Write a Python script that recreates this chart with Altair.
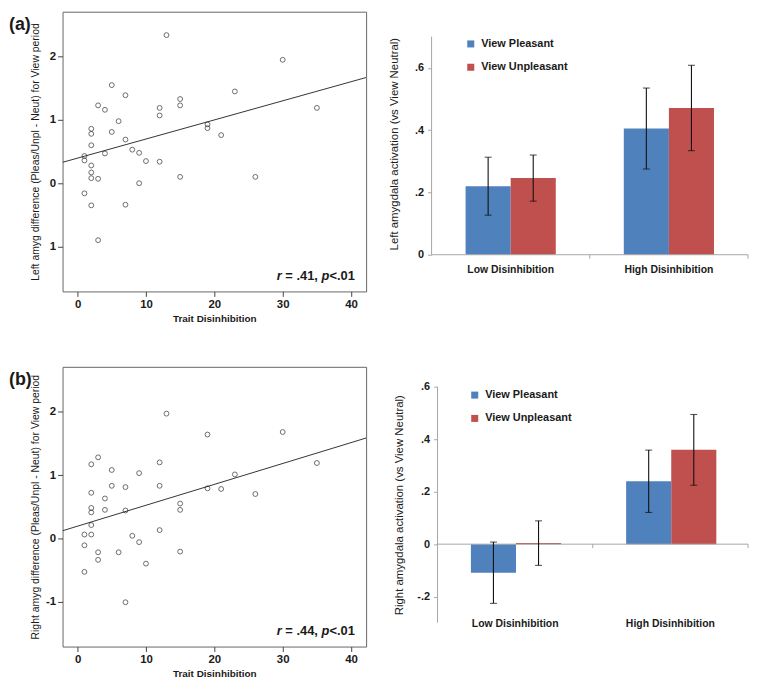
import altair as alt
import pandas as pd

FONT = "Liberation Sans"
INK = "#1a1a1a"
BLUE = "#4f81bd"
RED = "#c0504d"
GREY = "#a6a6a6"

# ---------------- data ----------------
# (a) scatter: Trait Disinhibition vs left amygdala difference
scat_a_x = [1, 1, 1, 2, 2, 2, 2, 2, 2, 2, 3, 3, 3, 4, 4, 5, 5, 6, 7, 7, 7, 8, 9, 9, 10,
            12, 12, 12, 13, 15, 15, 15, 19, 19, 21, 23, 26, 30, 35]
scat_a_y = [0.43, 0.36, -0.16, 0.86, 0.78, 0.60, 0.28, 0.17, 0.08, -0.35, 1.23, 0.07, -0.90,
            1.16, 0.47, 1.55, 0.81, 0.98, 1.39, 0.69, -0.34, 0.53, 0.48, 0.00, 0.35,
            1.19, 1.07, 0.34, 2.34, 1.33, 1.23, 0.10, 0.93, 0.87, 0.76, 1.45, 0.10, 1.95, 1.19]
# (b) scatter: Trait Disinhibition vs right amygdala difference
scat_b_x = [1, 1, 1, 2, 2, 2, 2, 2, 2, 3, 3, 3, 4, 4, 5, 5, 6, 7, 7, 7, 8, 9, 9, 10,
            12, 12, 12, 13, 15, 15, 15, 19, 19, 21, 23, 26, 30, 35]
scat_b_y = [0.06, -0.11, -0.53, 1.17, 0.72, 0.48, 0.41, 0.21, 0.06, 1.28, -0.22, -0.34,
            0.63, 0.45, 1.08, 0.83, -0.22, 0.81, 0.44, -1.01, 0.04, 1.03, -0.06, -0.40,
            1.20, 0.83, 0.13, 1.97, 0.55, 0.45, -0.21, 1.64, 0.79, 0.78, 1.01, 0.70, 1.68, 1.19]
# fitted regression lines (end points at the frame edges)
fit_x = [-2.2, 42.2]
fit_a_y = [0.33, 1.67]
fit_b_y = [0.12, 1.585]
stats_a = ["r", "= .41,", "p", "<.01"]
stats_b = ["r", "= .44,", "p", "<.01"]

# bar charts
groups = ["Low Disinhibition", "High Disinhibition"]
conds = ["View Pleasant", "View Unpleasant"]
# order: Low-Pleasant, Low-Unpleasant, High-Pleasant, High-Unpleasant
bar_a_mean = [0.220, 0.246, 0.405, 0.471]
bar_a_err = [0.093, 0.074, 0.130, 0.137]
bar_b_mean = [-0.109, 0.004, 0.240, 0.360]
bar_b_err = [0.117, 0.085, 0.119, 0.135]

# ---------------- layout ----------------
W_S, H_S = 306, 282
W_B = 319
S_DOM_X = [-2.2, 42.2]
S_DOM_Y = [-1.71, 2.71]


def scatter(xs, ys, fy, stats, panel, ytitle, neg_label):
    pts = pd.DataFrame({"x": xs, "y": ys})
    fit = pd.DataFrame({"x": fit_x, "y": fy})
    xsc = alt.Scale(domain=S_DOM_X, nice=False, zero=False)
    ysc = alt.Scale(domain=S_DOM_Y, nice=False, zero=False)
    xax = alt.Axis(values=[0, 10, 20, 30, 40], title="Trait Disinhibition", grid=False,
                   domain=False, tickSize=5, tickColor="#444", labelFontWeight="bold",
                   labelFontSize=11.5, labelPadding=2, labelColor=INK,
                   titleFontWeight="bold", titleFontSize=10, titlePadding=4, titleColor=INK)
    yax = alt.Axis(values=[-1, 0, 1, 2], title=ytitle, grid=False, domain=False,
                   tickSize=5, tickColor="#444", labelFontWeight="bold", labelFontSize=11.5,
                   labelPadding=2, labelColor=INK, labelExpr=neg_label,
                   titleFontWeight="normal", titleFontSize=10.5, titleColor=INK,
                   titleX=-27, titleY=H_S / 2, titleBaseline="middle", titleAngle=-90,
                   titleAlign="center")
    X = alt.X("x:Q", scale=xsc, axis=xax)
    Y = alt.Y("y:Q", scale=ysc, axis=yax)
    points = alt.Chart(pts).mark_point(shape="circle", filled=False, color=INK, size=24,
                                       strokeWidth=0.9).encode(x=X, y=Y)
    line = alt.Chart(fit).mark_line(color="#333", strokeWidth=1, clip=True).encode(x=X, y=Y)
    layers = [line, points]
    # statistics annotation, r and p italic
    seg_x = [215.9, 224.6, 261.1, 269.0]
    for i, s in enumerate(stats):
        layers.append(
            alt.Chart(pd.DataFrame({"t": [s]})).mark_text(
                font=FONT, fontSize=13, fontWeight="bold",
                fontStyle="italic" if s in ("r", "p") else "normal",
                align="left", baseline="alphabetic", color=INK
            ).encode(text="t:N", x=alt.value(seg_x[i]), y=alt.value(H_S - 11.7))
        )
    layers.append(
        alt.Chart(pd.DataFrame({"t": [panel]})).mark_text(
            font=FONT, fontSize=18, fontWeight="bold", align="left",
            baseline="alphabetic", color=INK
        ).encode(text="t:N", x=alt.value(-54), y=alt.value(18))
    )
    return alt.layer(*layers).properties(
        width=W_S, height=H_S,
        view=alt.ViewBackground(stroke="#666", strokeWidth=1)
    )


def bars(means, errs, ytitle, dom, vals, axis_span, x0, H, leg_xy, title_xy, xlab_pad, xlab_off):
    rows = []
    for gi, g in enumerate(groups):
        for ci, c in enumerate(conds):
            m = means[gi * 2 + ci]
            e = errs[gi * 2 + ci]
            rows.append({"g": g, "c": c, "m": m, "lo": m - e, "hi": m + e, "z": 0.0})
    df = pd.DataFrame(rows)
    xsc = alt.Scale(domain=groups, range=[x0, W_B], paddingInner=0.43, paddingOuter=0.215)
    ysc = alt.Scale(domain=dom, nice=False, zero=False)
    lab = ("datum.value == 0 ? '0' : (datum.value < 0 ? '-' : '') + "
           "replace(format(abs(datum.value), '.1f'), '0.', '.')")
    yax = alt.Axis(values=vals, labelExpr=lab, domain=False, grid=False, tickSize=4,
                   tickColor=GREY, labelFontWeight="bold", labelFontSize=11,
                   labelPadding=4, labelColor=INK, title=ytitle, titleFontWeight="normal",
                   titleFontSize=11.5, titleColor=INK, titleX=title_xy[0], titleY=title_xy[1],
                   titleBaseline="middle", titleAngle=-90, titleAlign="center",
                   offset=-x0)
    xax = alt.Axis(title=None, domain=False, ticks=False, tickSize=0, labelAngle=0,
                   labelFontWeight="bold", labelFontSize=10.5, labelColor=INK,
                   labelPadding=xlab_pad, offset=xlab_off)
    X = alt.X("g:N", scale=xsc, axis=xax, sort=groups)
    XO = alt.XOffset("c:N", scale=alt.Scale(domain=conds, paddingInner=0, paddingOuter=0))
    bar = alt.Chart(df).mark_bar().encode(
        x=X, xOffset=XO,
        y=alt.Y("m:Q", scale=ysc, axis=yax), y2=alt.Y2("z:Q"),
        color=alt.Color("c:N", scale=alt.Scale(domain=conds, range=[BLUE, RED]),
                        legend=alt.Legend(orient="none", legendX=leg_xy[0], legendY=leg_xy[1],
                                          title=None, symbolType="square", symbolSize=50,
                                          symbolStrokeWidth=0, labelFont=FONT,
                                          labelFontSize=11, labelFontWeight="bold",
                                          labelColor=INK, rowPadding=11.5, labelOffset=5,
                                          padding=0, direction="vertical")),
    )
    err = alt.Chart(df).mark_rule(color="#111", strokeWidth=1.1).encode(
        x=X, xOffset=XO, y=alt.Y("lo:Q", scale=ysc, axis=yax), y2="hi:Q")
    cap_lo = alt.Chart(df).mark_tick(color="#111", size=7, thickness=1.1).encode(
        x=X, xOffset=XO, y=alt.Y("lo:Q", scale=ysc, axis=yax))
    cap_hi = alt.Chart(df).mark_tick(color="#111", size=7, thickness=1.1).encode(
        x=X, xOffset=XO, y=alt.Y("hi:Q", scale=ysc, axis=yax))
    # axis lines
    zero = pd.DataFrame({"v": [0.0]})
    zline = alt.Chart(zero).mark_rule(color=GREY, strokeWidth=1).encode(
        y=alt.Y("v:Q", scale=ysc, axis=yax), x=alt.value(x0), x2=alt.value(W_B))
    yline = alt.Chart(pd.DataFrame({"a": [axis_span[0]], "b": [axis_span[1]]})).mark_rule(
        color=GREY, strokeWidth=1).encode(
        x=alt.value(x0), y=alt.Y("a:Q", scale=ysc, axis=yax), y2="b:Q")
    zpx = H * (dom[1] - 0) / (dom[1] - dom[0])
    ticks = [
        alt.Chart(zero).mark_rule(color=GREY, strokeWidth=1).encode(
            x=alt.value(px), y=alt.Y("v:Q", scale=ysc, axis=yax), y2=alt.value(zpx + 4))
        for px in [(x0 + W_B) / 2, W_B]
    ]
    return alt.layer(bar, zline, yline, *ticks, err, cap_lo, cap_hi).properties(
        width=W_B, height=H)


neg_a = "datum.value == -1 ? '1' : format(datum.value, 'd')"
neg_b = "datum.value < 0 ? '-' + format(-datum.value, 'd') : format(datum.value, 'd')"

sa = scatter(scat_a_x, scat_a_y, fit_a_y, stats_a, "(a)",
             "Left amyg difference (Pleas/Unpl - Neut) for View period", neg_a)
sb = scatter(scat_b_x, scat_b_y, fit_b_y, stats_b, "(b)",
             "Right amyg difference (Pleas/Unpl - Neut) for View period", neg_b)
ba = bars(bar_a_mean, bar_a_err, "Left amygdala activation (vs View Neutral)",
          [0, 0.78], [0, 0.2, 0.4, 0.6], [0, 0.70], 0, 245, (34, 27), (-37, 133), 10, 0)
bb = bars(bar_b_mean, bar_b_err, "Right amygdala activation (vs View Neutral)",
          [-0.30, 0.677], [-0.2, 0, 0.2, 0.4, 0.6], [-0.30, 0.60], 6, 258, (38, 23),
          (-38, 139), 0, -4)

chart = alt.concat(
    sa, ba, sb, bb, columns=2, spacing={"row": 76, "column": 66}, bounds="flush"
).resolve_scale(color="independent").resolve_legend(color="independent").properties(
    padding=0
).configure(font=FONT).configure_view(stroke="transparent", strokeWidth=0)

chart.save("out.html", embed_options={"renderer": "svg", "actions": False})
